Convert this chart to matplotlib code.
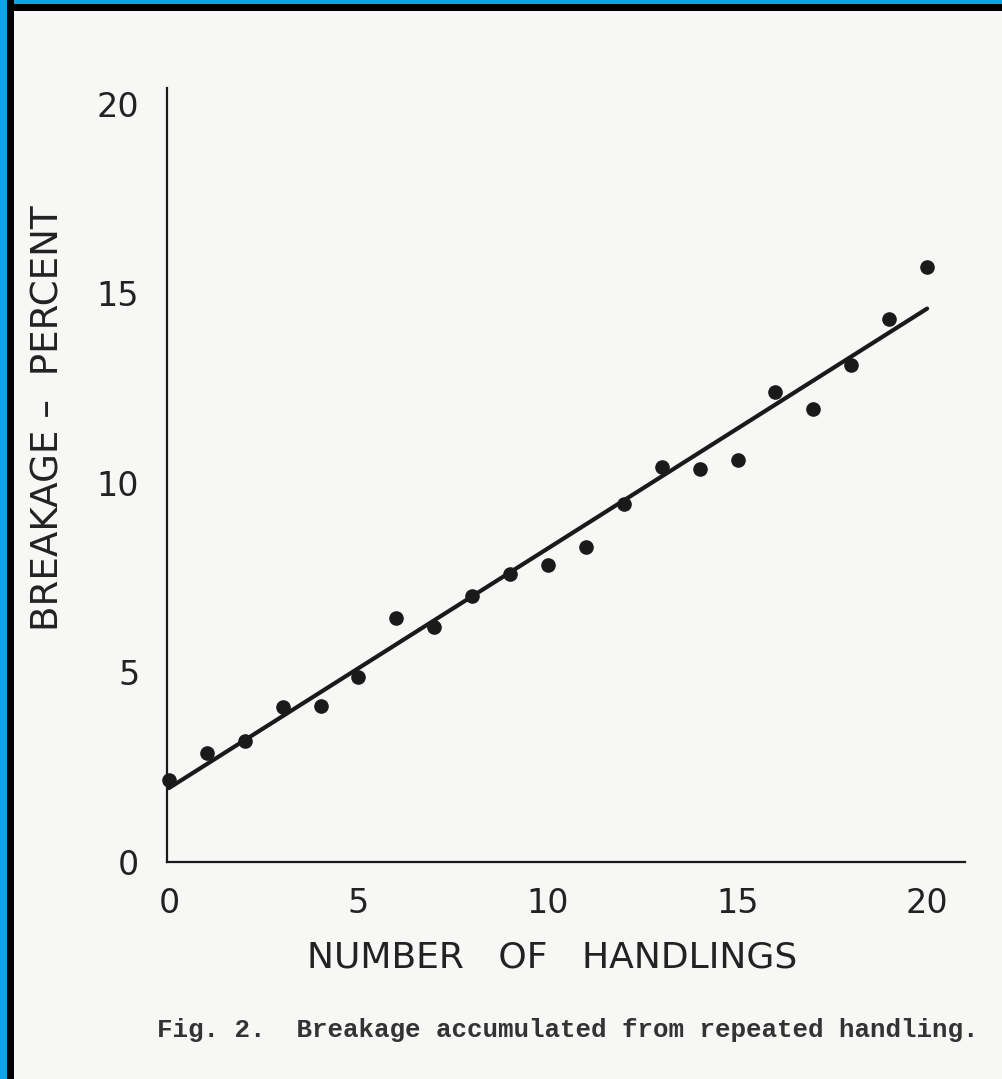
import matplotlib
matplotlib.use("Agg")
import matplotlib.pyplot as plt
from matplotlib.patches import Rectangle

# ---- data ----
handlings = [0, 1, 2, 3, 4, 5, 6, 7, 8, 9, 10, 11, 12, 13, 14, 15, 16, 17, 18, 19, 20]
breakage = [2.16, 2.88, 3.19, 4.09, 4.12, 4.88, 6.44, 6.20, 7.02, 7.60, 7.84,
            8.31, 9.45, 10.42, 10.37, 10.61, 12.40, 11.95, 13.10, 14.33, 15.70]
fit_x = [0, 20]
fit_y = [1.95, 14.60]
x_ticks = [0, 5, 10, 15, 20]
y_ticks = [0, 5, 10, 15, 20]
x_label = "NUMBER   OF   HANDLINGS"
y_label = "BREAKAGE \u2013  PERCENT"
caption = "Fig. 2.  Breakage accumulated from repeated handling."

W, H = 1002, 1079
fig = plt.figure(figsize=(W / 100, H / 100), dpi=100)
bg = "#f7f7f6"
fig.patch.set_facecolor(bg)

# frame borders (blue outer, black inner) at top and left
def px_rect(x0, y0, w, h, color):
    fig.patches.append(Rectangle((x0 / W, 1 - (y0 + h) / H), w / W, h / H,
                                 transform=fig.transFigure, color=color,
                                 zorder=10, linewidth=0))

blue = "#0aa6e8"
px_rect(0, 0, W, 11, "black")
px_rect(0, 0, W, 4, blue)
px_rect(0, 0, 14, H, "black")
px_rect(0, 0, 7, H, blue)

ax = fig.add_axes([167 / W, 1 - 862 / H, (965 - 167) / W, (862 - 88) / H])
ax.set_facecolor(bg)

ink = "#1a1a1a"
ax.plot(fit_x, fit_y, color=ink, lw=3.0, solid_capstyle="round", zorder=3)
ax.plot(handlings, breakage, "o", color=ink, ms=9.5, zorder=4, clip_on=False)

ax.set_xlim(-0.05, 21.0)
ax.set_ylim(0, 20.42)
for s in ["top", "right"]:
    ax.spines[s].set_visible(False)
for s in ["left", "bottom"]:
    ax.spines[s].set_linewidth(1.6)
    ax.spines[s].set_color(ink)

ax.set_xticks(x_ticks)
ax.set_yticks(y_ticks)
ax.set_xticklabels([str(v) for v in x_ticks])
ax.set_yticklabels([str(v) for v in y_ticks])
ax.tick_params(axis="both", length=0, labelsize=24, colors="#222222")
ax.tick_params(axis="x", pad=18)
ax.tick_params(axis="y", pad=20)

fig.text(552 / W, 1 - 958 / H, x_label, ha="center", va="center",
         fontsize=26, color="#222222", family="DejaVu Sans")
fig.text(48 / W, 1 - 418 / H, y_label, ha="center", va="center",
         rotation=90, fontsize=26.8, color="#222222", family="DejaVu Sans")

fig.text(157 / W, 1 - 1030 / H, caption, ha="left", va="center",
         fontsize=18.6, color="#333333", family="Liberation Mono",
         fontweight="bold")

fig.savefig("out.png", dpi=100, facecolor=fig.get_facecolor())
